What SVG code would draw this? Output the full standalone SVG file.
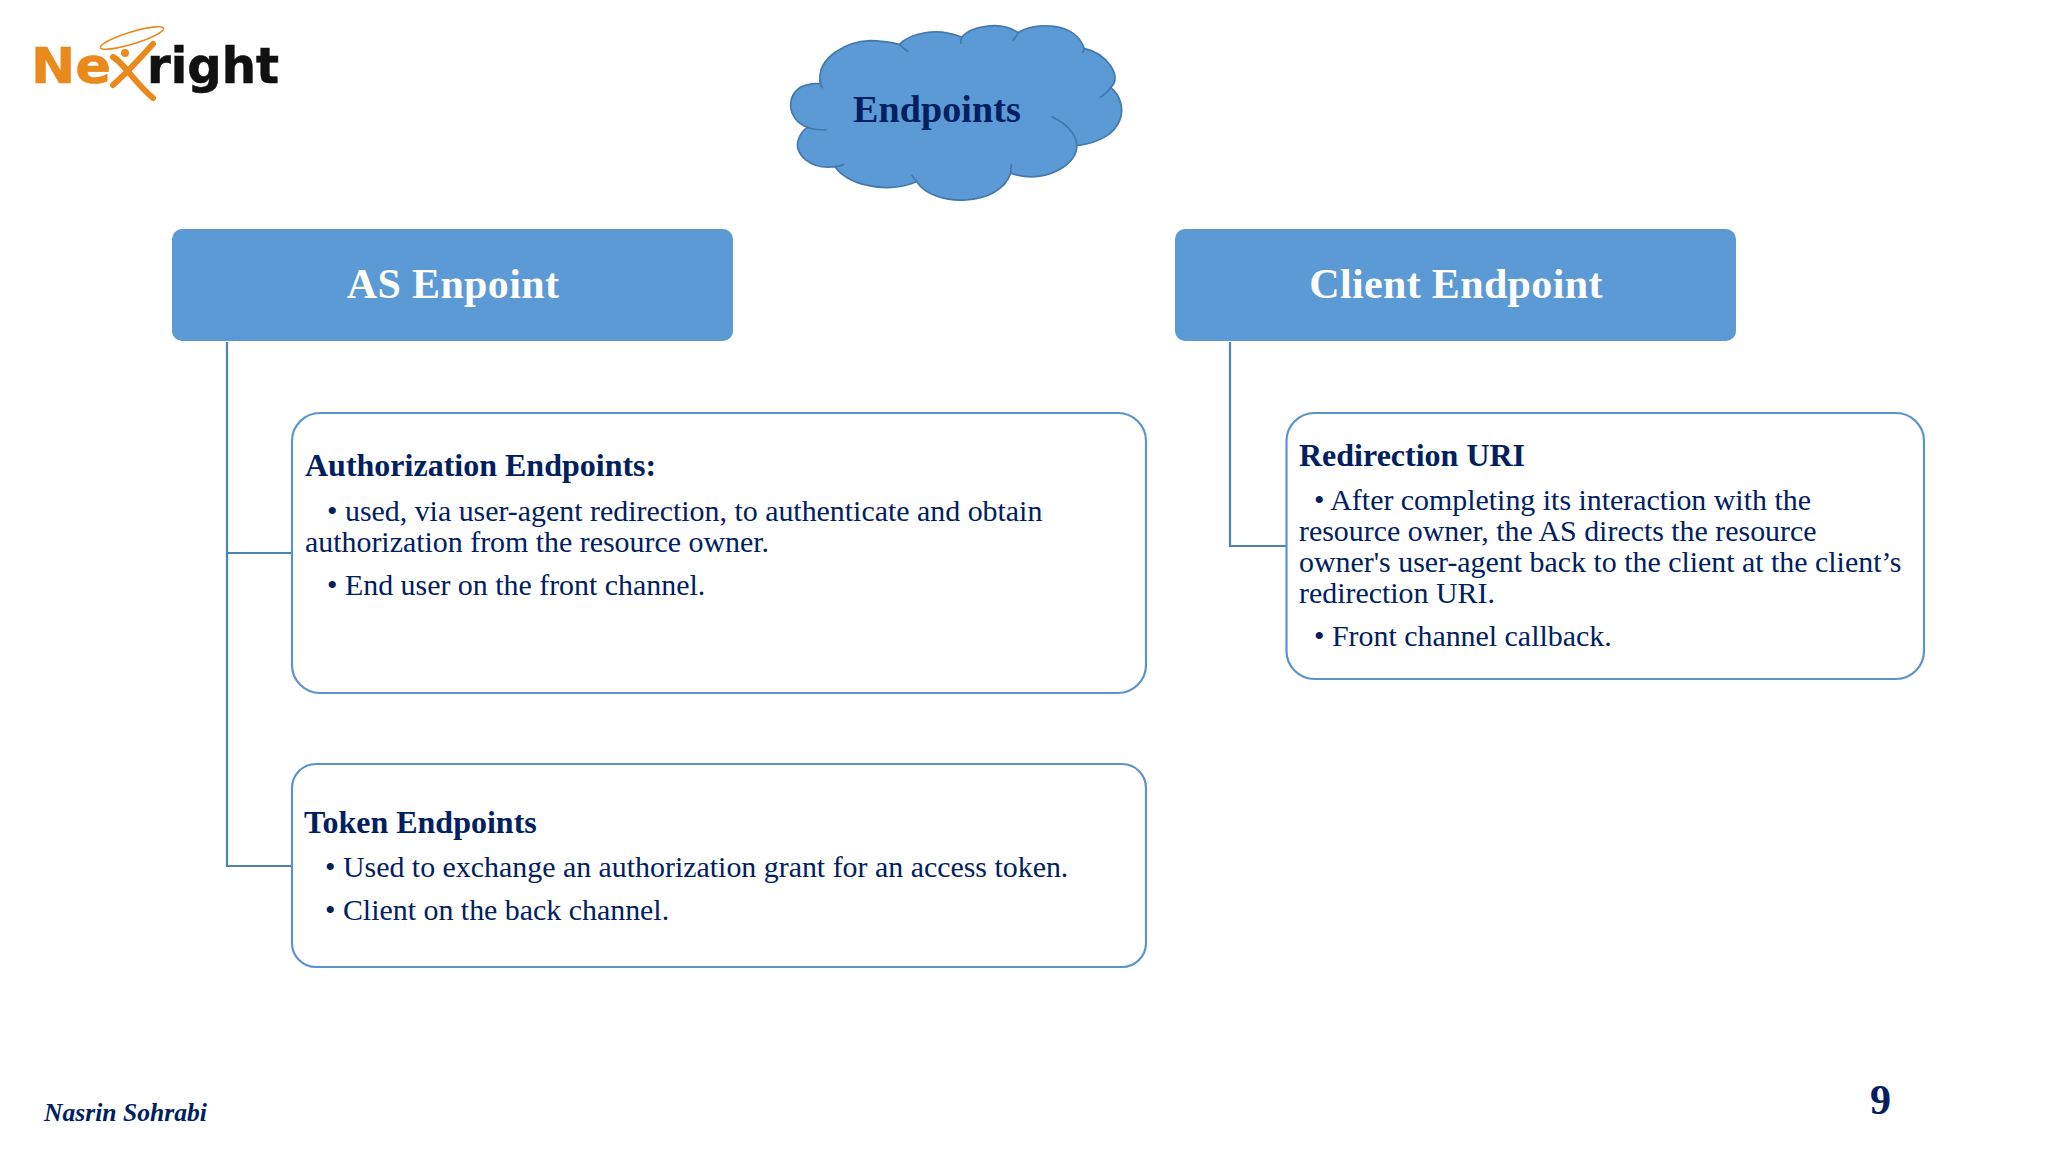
<svg xmlns="http://www.w3.org/2000/svg" width="2048" height="1152" viewBox="0 0 2048 1152">
<style>
text{font-family:"Liberation Serif","Times New Roman",serif;fill:#002060}
.head{font-size:42px;font-weight:700;fill:#fff;text-anchor:middle;letter-spacing:.35px}
.hd{font-size:32px;font-weight:700}
.b{font-size:29.9px}
.box{fill:#fff;stroke:#5b94cc;stroke-width:2.2}
.hdr{fill:#5b9ad5}
.con{fill:none;stroke:#4f81b5;stroke-width:2.2}
.logo{font-family:"DejaVu Sans",sans-serif;font-weight:700;font-size:49px;stroke-width:.6px}
</style>
<rect width="2048" height="1152" fill="#fff"/>
<g id="logo">
<text class="logo" x="31" y="83" style="fill:#ea8a1c;stroke:#ea8a1c" textLength="80" lengthAdjust="spacingAndGlyphs">Ne</text>
<text class="logo" x="147" y="83" style="fill:#111;stroke:#111" textLength="132" lengthAdjust="spacingAndGlyphs">right</text>
<g fill="none" stroke="#ea8a1c" stroke-linecap="round">
<path d="M113 85C128 72 140 58 153 44" stroke-width="6"/>
<path d="M113 57C124 63 134 82 153 98" stroke-width="6"/>
<ellipse cx="132" cy="38" rx="33" ry="6" transform="rotate(-17 132 38)" stroke-width="1.6"/>
</g>
<circle cx="125" cy="53" r="4" fill="#ea8a1c"/>
</g>
<g id="cloud-endpoints">
<g transform="translate(770 0) scale(.33333)" stroke="#4378ac" stroke-width="5" fill="none">
<path fill="#5b9ad5" d="M150 240C145 170 230 125 300 122C340 122 375 130 388 133C420 100 500 80 575 112C600 80 690 60 745 98C790 65 920 65 942 145C1010 160 1060 230 1022 262C1080 310 1070 420 920 437C925 490 830 555 722 520C690 620 490 625 440 545C340 585 230 550 195 500C120 510 70 460 85 420C90 400 100 390 112 382C50 360 45 280 100 258C120 250 140 250 152 250Z"/>
<path d="M170 390C140 390 125 388 112 382M388 133C395 140 405 148 415 155M575 112C572 120 572 125 572 132M745 98C740 108 735 115 728 122M942 145C942 150 940 155 938 158M1022 262C1015 275 1000 285 990 293M920 437C920 410 900 375 845 350M722 520C722 510 722 500 725 492M440 545C435 538 430 532 425 525M195 500C205 500 215 497 222 493M150 240C150 250 152 258 158 265"/>
</g>
<text x="853" y="122" style="font-size:38px;font-weight:700;letter-spacing:.1px">Endpoints</text>
</g>
<g id="connectors">
<path class="con" d="M227 342V866H292M227 553H292"/>
<path class="con" d="M1230 342V546H1286"/>
</g>
<g id="as-endpoint">
<rect class="hdr" x="172" y="229" width="561" height="112" rx="10"/>
<text class="head" x="453" y="298">AS Enpoint</text>
</g>
<g id="client-endpoint">
<rect class="hdr" x="1175" y="229" width="561" height="112" rx="10"/>
<text class="head" x="1456" y="298">Client Endpoint</text>
</g>
<g id="authorization-endpoints">
<rect class="box" x="292" y="413" width="854" height="280" rx="28"/>
<text class="hd" x="305" y="476">Authorization Endpoints:</text>
<text class="b" x="327" y="520.500">• used, via user-agent redirection, to authenticate and obtain</text>
<text class="b" x="305" y="552">authorization from the resource owner.</text>
<text class="b" x="327" y="595">• End user on the front channel.</text>
</g>
<g id="token-endpoints">
<rect class="box" x="292" y="764" width="854" height="203" rx="24"/>
<text class="hd" x="304" y="832.500">Token Endpoints</text>
<text class="b" x="325" y="877">• Used to exchange an authorization grant for an access token.</text>
<text class="b" x="325" y="920">• Client on the back channel.</text>
</g>
<g id="redirection-uri">
<rect class="box" x="1286.500" y="413" width="637.500" height="266" rx="28"/>
<text class="hd" x="1299" y="466">Redirection URI</text>
<text class="b" x="1314" y="510">• After completing its interaction with the</text>
<text class="b" x="1299" y="541">resource owner, the AS directs the resource</text>
<text class="b" x="1299" y="572">owner's user-agent back to the client at the client’s</text>
<text class="b" x="1299" y="603">redirection URI.</text>
<text class="b" x="1314" y="646">• Front channel callback.</text>
</g>
<text x="44" y="1121" style="font-size:25.600px;font-weight:700;font-style:italic">Nasrin Sohrabi</text>
<text x="1870" y="1114" style="font-size:42px;font-weight:700">9</text>
</svg>
